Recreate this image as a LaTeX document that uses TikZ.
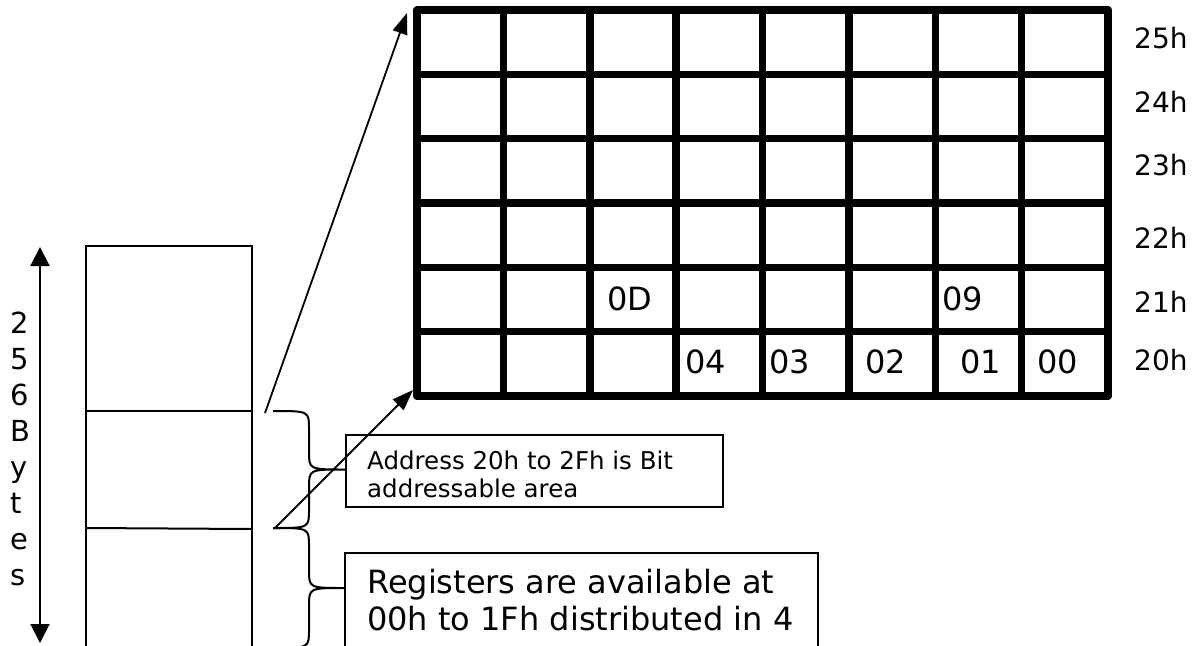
\documentclass[tikz,border=0pt]{standalone}
\usepackage{fontspec}
\setmainfont{DejaVu Sans}
\usetikzlibrary{arrows.meta,calc,positioning}
% curly brace: x, top y, bottom y, tip x
\newcommand{\membrace}[4]{%
  \pgfmathsetmacro{\bmid}{(#2+#3)/2}%
  \pgfmathsetmacro{\bx}{(#1+#4)/2}%
  \draw[thinline] (#1,#2) .. controls (\bx,#2) .. (\bx,#2+18)
    -- (\bx,\bmid-18) .. controls (\bx,\bmid) .. (#4,\bmid)
    .. controls (\bx,\bmid) .. (\bx,\bmid+18)
    -- (\bx,#3-18) .. controls (\bx,#3) .. (#1,#3);}

\begin{document}
\begin{tikzpicture}[x=1pt,y=-1pt,
  thinline/.style={line width=2pt},
  gridline/.style={line width=7.5pt,line cap=round},
  ptr/.style={line width=1.8pt,-{Triangle[length=21pt,width=15pt]}},
  celltxt/.style={font=\fontsize{32}{36}\selectfont,anchor=base west,inner sep=0pt},
  rowtxt/.style={font=\fontsize{28}{30}\selectfont,anchor=base west,inner sep=0pt},
  vtxt/.style={font=\fontsize{29}{30}\selectfont,anchor=base west,inner sep=0pt},
  smalltxt/.style={font=\fontsize{24.5}{28}\selectfont,align=left,anchor=base west,inner sep=0pt},
  bigtxt/.style={font=\fontsize{32}{37}\selectfont,align=left,anchor=base west,inner sep=0pt}]
  \useasboundingbox (0,0) rectangle (1201,645);

  % 256 bytes of internal RAM
  \draw[thinline] (86,660) -- (86,246) -- (252,246) -- (252,660);
  \draw[thinline] (86,411) -- (252,411);
  \draw[thinline] (86,528) -- (252,529);
  \coordinate (sizeTop) at (40,247);
  \coordinate (sizeBot) at (40,643);
  \draw[thinline,{Triangle[length=19pt,width=19pt]}-{Triangle[length=19pt,width=19pt]}] (sizeTop) -- (sizeBot);
  \foreach \ch [count=\i] in {2,5,6,B,y,t,e,s}
    \node[vtxt] (v\i) at (10,333+36*\i-36) {\ch};

  % bit addressable grid
  \foreach \c in {0,...,8}
    \draw[gridline] (417+86.375*\c,10) -- (417+86.375*\c,396);
  \foreach \r in {0,...,6}
    \draw[gridline] (417,10+64.33*\r) -- (1108,10+64.33*\r);
  \foreach \lab/\yb in {25h/48,24h/112,23h/175,22h/248,21h/312,20h/370}
    \node[rowtxt] (row\lab) at (1134,\yb) {\lab};
  \foreach \lab/\xb/\yb in {0D/607/310,09/942/310,04/685/373,03/769/373,02/865/373,01/960/373,00/1037/373}
    \node[celltxt] (bit\lab) at (\xb,\yb) {\lab};

  % pointers into the grid
  \coordinate (bitTop) at (265,413);
  \coordinate (regTop) at (275,528);
  \coordinate (gridTL) at (407,13);
  \coordinate (gridBL) at (413,390);
  \draw[ptr] (bitTop) -- (gridTL);
  \draw[ptr] (regTop) -- (gridBL);

  % braces and notes
  \membrace{273}{411}{528}{345}
  \membrace{273}{528}{648}{345}
  \node[draw,thinline,minimum width=377pt,minimum height=72pt,anchor=north west,inner sep=0pt] (bitbox) at (345,434) {};
  \node[smalltxt] (bitnote) at (367,497) {Address 20h to 2Fh is Bit\\addressable area};
  \draw[thinline] (345,660) |- (818,553) -- (818,660);
  \node[bigtxt] (regnote) at (367,630) {Registers are available at\\00h to 1Fh distributed in 4};
\end{tikzpicture}
\end{document}
